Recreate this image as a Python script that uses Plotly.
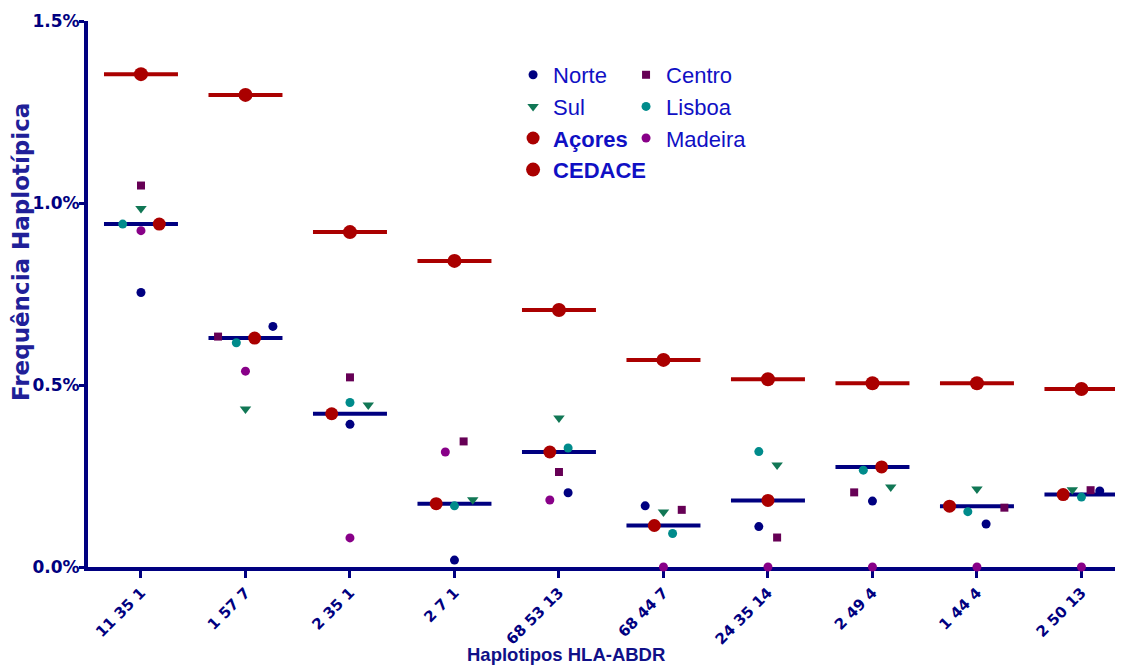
import plotly.graph_objects as go

# ---------------- data (frequencies in %) ----------------
categorias = ["11 35 1", "1 57 7", "2 35 1", "2 7 1", "68 53 13",
              "68 44 7", "24 35 14", "2 49 4", "1 44 4", "2 50 13"]
norte   = [0.754, 0.661, 0.392, 0.019, 0.204, 0.168, 0.111, 0.181, 0.118, 0.209]
centro  = [1.048, 0.633, 0.521, 0.345, 0.261, 0.157, 0.081, 0.205, 0.163, 0.211]
sul     = [0.985, 0.434, 0.445, 0.185, 0.409, 0.151, 0.280, 0.220, 0.214, 0.212]
lisboa  = [0.942, 0.616, 0.452, 0.168, 0.327, 0.092, 0.317, 0.266, 0.152, 0.192]
acores  = [0.942, 0.629, 0.421, 0.174, 0.316, 0.114, 0.183, 0.275, 0.167, 0.199]
madeira = [0.924, 0.538, 0.080, 0.316, 0.184, 0.0, 0.0, 0.0, 0.0, 0.0]
cedace  = [1.354, 1.297, 0.920, 0.841, 0.706, 0.569, 0.516, 0.505, 0.505, 0.489]
y_ticks = [0.0, 0.5, 1.0, 1.5]

# horizontal scatter offsets (in marker-step units) to avoid overlap
jit_norte   = [0, 3, 0, 0, 1, -2, -1, 0, 1, 2]
jit_centro  = [0, -3, 0, 1, 0, 2, 1, -2, 3, 1]
jit_sul     = [0, 0, 2, 2, 0, 0, 1, 2, 0, -1]
jit_lisboa  = [-2, -1, 0, 0, 1, 1, -1, -1, -1, 0]
jit_acores  = [2, 1, -2, -2, -1, -1, 0, 1, -3, -2]
jit_madeira = [0, 0, 0, -1, -1, 0, 0, 0, 0, 0]
jit_cedace  = [0] * 10

STEP = 0.0875
HALF = 0.354
NAVY = "#000080"

def xs(jit):
    return [i + j * STEP for i, j in enumerate(jit)]

def seg(vals):
    x, y = [], []
    for i, v in enumerate(vals):
        x += [i - HALF, i + HALF, None]
        y += [v, v, None]
    return x, y

fig = go.Figure()

lx, ly = seg(cedace)
fig.add_trace(go.Scatter(x=lx, y=ly, mode="lines", line=dict(color="#aa0000", width=4),
                         showlegend=False, hoverinfo="skip", cliponaxis=False))
lx, ly = seg(acores)
fig.add_trace(go.Scatter(x=lx, y=ly, mode="lines", line=dict(color=NAVY, width=4),
                         showlegend=False, hoverinfo="skip", cliponaxis=False))

series = [
    ("Norte", norte, jit_norte, "circle", 9, NAVY, "legend"),
    ("Sul", sul, jit_sul, "triangle-down", 10, "#117755", "legend"),
    ("<b>Açores</b>", acores, jit_acores, "circle", 13, "#aa0000", "legend"),
    ("<b>CEDACE</b>", cedace, jit_cedace, "circle", 14, "#aa0000", "legend"),
    ("Centro", centro, jit_centro, "square", 8, "#660055", "legend2"),
    ("Lisboa", lisboa, jit_lisboa, "circle", 9, "#008b8b", "legend2"),
    ("Madeira", madeira, jit_madeira, "circle", 9, "#880088", "legend2"),
]
for name, vals, jit, sym, size, col, leg in series:
    fig.add_trace(go.Scatter(x=xs(jit), y=vals, mode="markers", name=name,
                             marker=dict(symbol=sym, size=size, color=col, line=dict(width=0)),
                             legend=leg, cliponaxis=False))

legfont = dict(family="Liberation Sans, Arial, sans-serif", size=22, color="#1010c4")
fig.update_layout(
    width=1123, height=666,
    margin=dict(l=88, r=8, t=21, b=99),
    plot_bgcolor="white", paper_bgcolor="white",
    legend=dict(x=0.4139, y=0.9396, xanchor="left", yanchor="top", font=legfont,
                bgcolor="rgba(0,0,0,0)", tracegroupgap=0),
    legend2=dict(x=0.5239, y=0.9396, xanchor="left", yanchor="top", font=legfont,
                 bgcolor="rgba(0,0,0,0)", tracegroupgap=0),
    xaxis=dict(range=[-0.507, 9.321], tickmode="array", tickvals=list(range(len(categorias))),
               ticktext=categorias, tickangle=-45, showgrid=False, zeroline=False,
               showline=True, linecolor=NAVY, linewidth=4, ticks="outside", ticklen=7,
               tickwidth=3, tickcolor=NAVY, layer="below traces",
               tickfont=dict(family="DejaVu Sans", size=15, color=NAVY, weight="bold")),
    yaxis=dict(range=[0, 1.5], tickmode="array", tickvals=y_ticks,
               ticktext=[f"{v:.1f}%" for v in y_ticks], showgrid=False, zeroline=False,
               showline=True, linecolor=NAVY, linewidth=4, ticks="outside", ticklen=5,
               tickwidth=3, tickcolor=NAVY, layer="below traces", ticklabelstandoff=-4,
               tickfont=dict(family="DejaVu Sans", size=17, color=NAVY, weight="bold")),
    annotations=[
        dict(text="Haplotipos HLA-ABDR", xref="paper", yref="paper", x=0.465, y=-0.161,
             xanchor="center", yanchor="middle", showarrow=False,
             font=dict(family="Liberation Sans, Arial, sans-serif", size=18.5,
                       color="#101088", weight="bold")),
        dict(text="Frequência Haplotípica", xref="paper", yref="paper", x=-0.0652, y=0.577,
             xanchor="center", yanchor="middle", showarrow=False, textangle=-90,
             font=dict(family="DejaVu Sans", size=23, color="#202098", weight="bold")),
    ],
)

fig.write_html("out.html", config={"displayModeBar": False},
               post_script="document.body.style.margin='0';")
